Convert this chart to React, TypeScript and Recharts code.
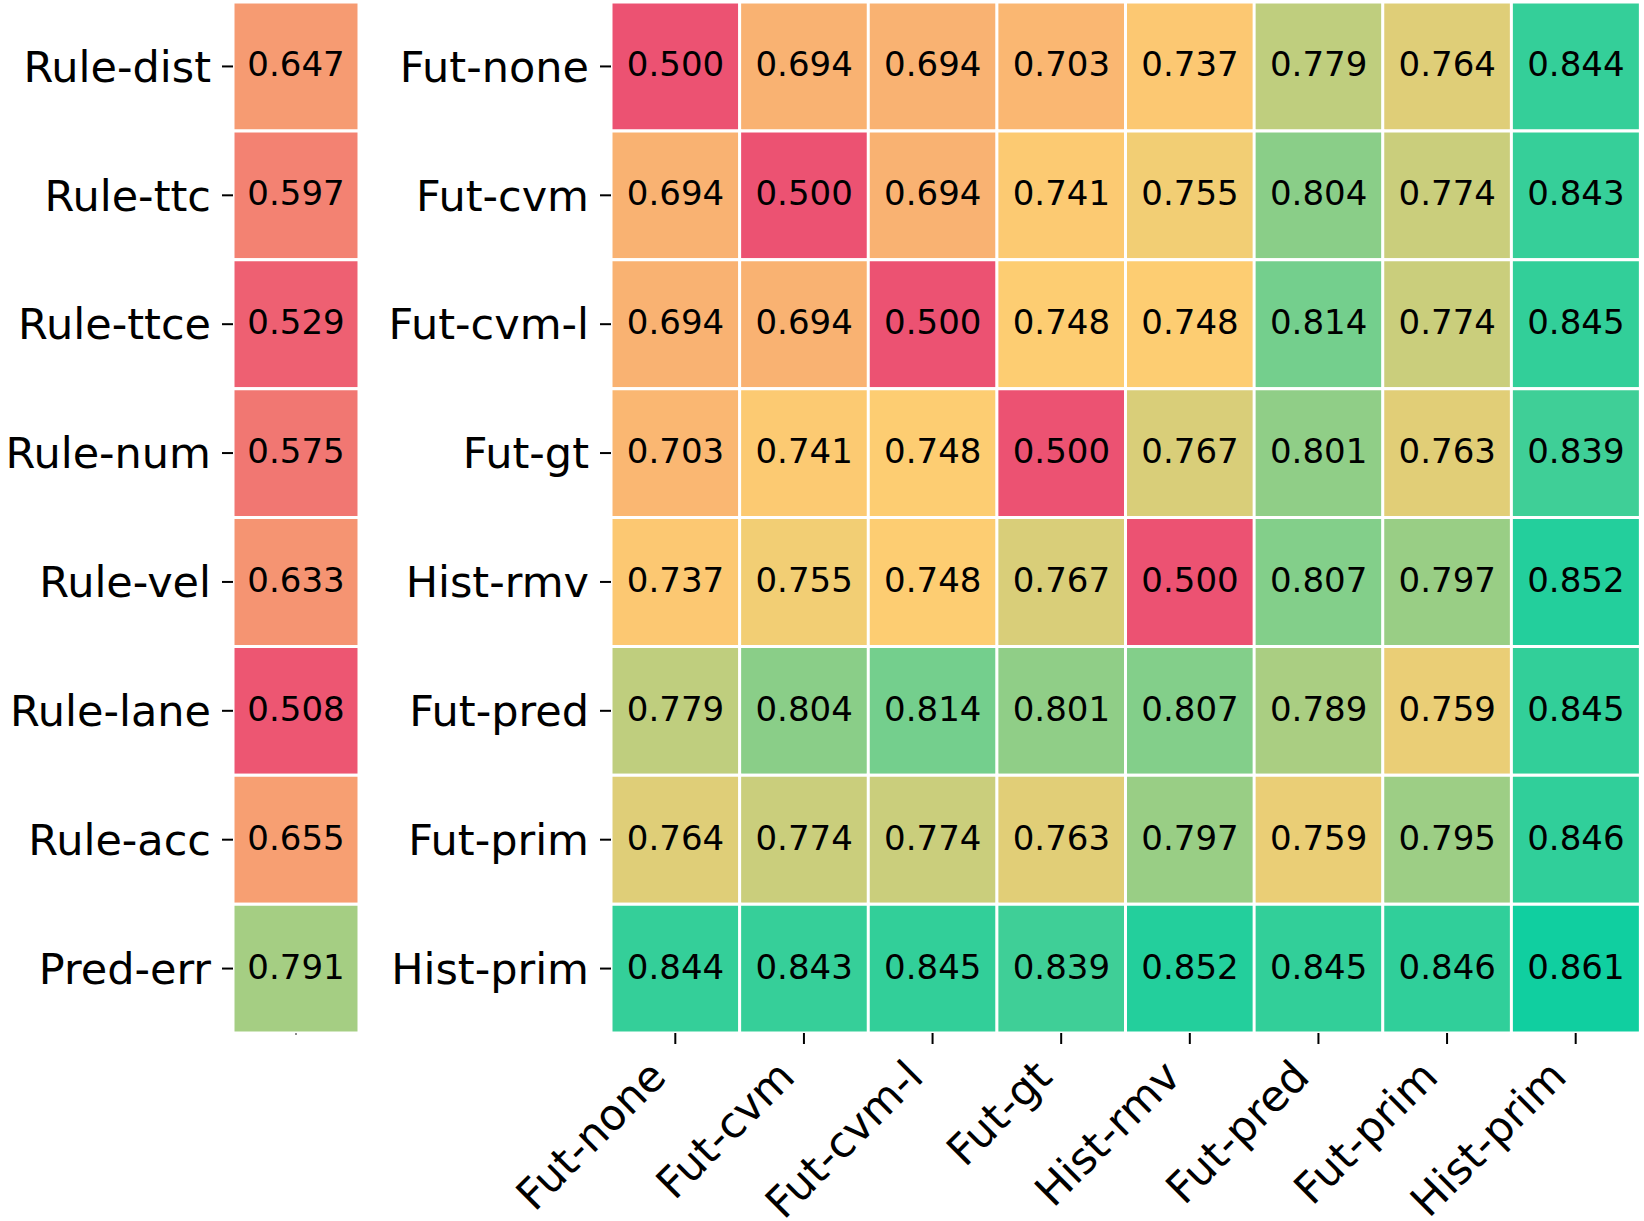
import React from "react";
import { BarChart, Bar, XAxis, YAxis, Cell, LabelList } from "recharts";

// ---------- data ----------
const ruleLabels = ["Rule-dist", "Rule-ttc", "Rule-ttce", "Rule-num", "Rule-vel", "Rule-lane", "Rule-acc", "Pred-err"];
const ruleValues = [0.647, 0.597, 0.529, 0.575, 0.633, 0.508, 0.655, 0.791];

const methodLabels = ["Fut-none", "Fut-cvm", "Fut-cvm-l", "Fut-gt", "Hist-rmv", "Fut-pred", "Fut-prim", "Hist-prim"];
const rowFutNone = [0.5, 0.694, 0.694, 0.703, 0.737, 0.779, 0.764, 0.844];
const rowFutCvm = [0.694, 0.5, 0.694, 0.741, 0.755, 0.804, 0.774, 0.843];
const rowFutCvmL = [0.694, 0.694, 0.5, 0.748, 0.748, 0.814, 0.774, 0.845];
const rowFutGt = [0.703, 0.741, 0.748, 0.5, 0.767, 0.801, 0.763, 0.839];
const rowHistRmv = [0.737, 0.755, 0.748, 0.767, 0.5, 0.807, 0.797, 0.852];
const rowFutPred = [0.779, 0.804, 0.814, 0.801, 0.807, 0.789, 0.759, 0.845];
const rowFutPrim = [0.764, 0.774, 0.774, 0.763, 0.797, 0.759, 0.795, 0.846];
const rowHistPrim = [0.844, 0.843, 0.845, 0.839, 0.852, 0.845, 0.846, 0.861];
const matrix = [rowFutNone, rowFutCvm, rowFutCvmL, rowFutGt, rowHistRmv, rowFutPred, rowFutPrim, rowHistPrim];

const rowTicks = [0.5, 1.5, 2.5, 3.5, 4.5, 5.5, 6.5, 7.5];

// ---------- colour map ----------
const cmapStops: [number, number[]][] = [
  [0.5, [236, 82, 114]],
  [0.75, [253, 206, 114]],
  [0.861, [16, 207, 160]],
];
function colorFor(v: number): string {
  let a = cmapStops[0];
  let b = cmapStops[cmapStops.length - 1];
  if (v <= a[0]) return `rgb(${a[1].join(",")})`;
  if (v >= b[0]) return `rgb(${b[1].join(",")})`;
  for (let i = 0; i < cmapStops.length - 1; i++) {
    if (v >= cmapStops[i][0] && v <= cmapStops[i + 1][0]) {
      a = cmapStops[i];
      b = cmapStops[i + 1];
      break;
    }
  }
  const t = (v - a[0]) / (b[0] - a[0]);
  const c = a[1].map((x, i) => Math.round(x + (b[1][i] - x) * t));
  return `rgb(${c.join(",")})`;
}

const FONT = "DejaVu Sans";
const W = 1644;
const H = 1221;

const seriesKeys = rowTicks.map((_, i) => `s${i}`);

const makeRows = (cols: string[]) =>
  cols.map((c) => {
    const o: any = { name: c };
    seriesKeys.forEach((k) => (o[k] = 1));
    return o;
  });

const leftData = makeRows([""]);
const rightData = makeRows(methodLabels);

const makeLabel = (getVal: (idx: number) => number) => (props: any) => {
  const { x, y, width, height, index } = props;
  const v = getVal(index);
  return (
    <text
      x={Number(x) + Number(width) / 2}
      y={Number(y) + Number(height) / 2 + 10}
      textAnchor="middle"
      fontFamily={FONT}
      fontSize={34}
      fill="#000"
    >
      {v.toFixed(3)}
    </text>
  );
};

const RotTick = (props: any) => {
  const { x, y, payload } = props;
  const bx = x - 7;
  const by = y + 35;
  return (
    <text
      x={bx}
      y={by}
      textAnchor="end"
      fontFamily={FONT}
      fontSize={43}
      fill="#000"
      transform={`rotate(-45 ${bx} ${by})`}
    >
      {payload.value}
    </text>
  );
};

const yAxisCommon = {
  type: "number" as const,
  domain: [0, 8],
  reversed: true,
  ticks: rowTicks,
  interval: 0 as const,
  axisLine: false,
  tickSize: 11,
  tickMargin: 11,
  tickLine: { stroke: "#000", strokeWidth: 2 },
  tick: { fontSize: 43, fill: "#000", fontFamily: FONT },
};

export default function App() {
  return (
    <div style={{ position: "absolute", left: 0, top: 0, width: W, height: H, background: "#fff" }}>
      <div style={{ position: "absolute", left: 0, top: 0 }}>
        <BarChart
          width={380}
          height={H}
          data={leftData}
          margin={{ top: 2, right: 21, bottom: 38, left: 0 }}
          barCategoryGap={0}
          barGap={0}
        >
          <XAxis
            dataKey="name"
            type="category"
            height={150}
            axisLine={false}
            tickSize={2}
            tickLine={{ stroke: "#666", strokeWidth: 1.5 }}
            tickFormatter={() => ""}
          />
          <YAxis {...yAxisCommon} width={233} tickFormatter={(v: number) => ruleLabels[Math.floor(v)]} />
          {seriesKeys.map((k, r) => (
            <Bar key={k} dataKey={k} stackId="a" isAnimationActive={false}>
              {leftData.map((_, c) => (
                <Cell key={c} fill={colorFor(ruleValues[r])} stroke="#fff" strokeWidth={3} />
              ))}
              <LabelList dataKey={k} content={makeLabel(() => ruleValues[r])} />
            </Bar>
          ))}
        </BarChart>
      </div>
      <div style={{ position: "absolute", left: 380, top: 0 }}>
        <BarChart
          width={1264}
          height={H}
          data={rightData}
          margin={{ top: 2, right: 4, bottom: 38, left: 0 }}
          barCategoryGap={0}
          barGap={0}
        >
          <XAxis
            dataKey="name"
            type="category"
            height={150}
            interval={0}
            axisLine={false}
            tickSize={11}
            tickMargin={0}
            tickLine={{ stroke: "#000", strokeWidth: 2 }}
            tick={<RotTick />}
          />
          <YAxis {...yAxisCommon} width={231} tickFormatter={(v: number) => methodLabels[Math.floor(v)]} />
          {seriesKeys.map((k, r) => (
            <Bar key={k} dataKey={k} stackId="a" isAnimationActive={false}>
              {rightData.map((_, c) => (
                <Cell key={c} fill={colorFor(matrix[r][c])} stroke="#fff" strokeWidth={3} />
              ))}
              <LabelList dataKey={k} content={makeLabel((idx) => matrix[r][idx])} />
            </Bar>
          ))}
        </BarChart>
      </div>
    </div>
  );
}
